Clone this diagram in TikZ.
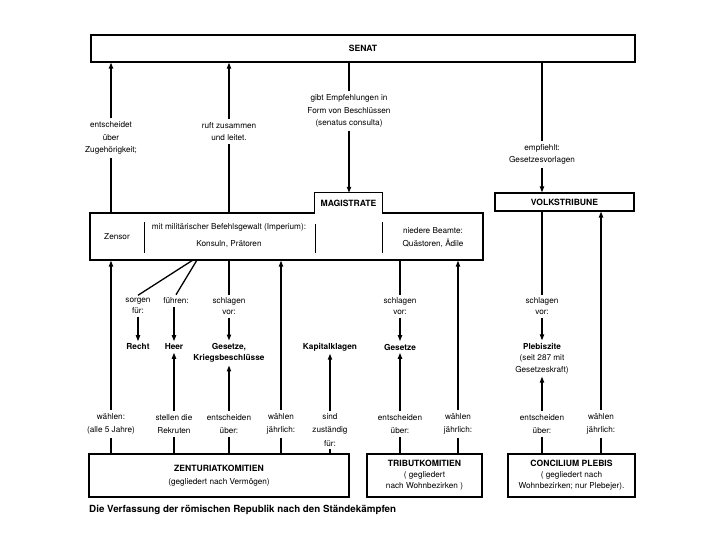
\documentclass[tikz,border=0pt]{standalone}
\usepackage{fontspec}
\setmainfont{TeX Gyre Heros}
\usetikzlibrary{arrows.meta}
\newcommand\mycapf{\fontsize{8.6}{11}\selectfont\bfseries}
\begin{document}
\begin{tikzpicture}[x=1pt,y=-1pt,
 box/.style={draw,line width=1.1pt,inner sep=0pt},
 conn/.style={line width=1.3pt},
 arr/.style={line width=1.3pt,-{Triangle[length=6pt,width=4.2pt]}},
 lab/.style={font=\fontsize{8.2}{12.5}\selectfont,align=center,inner sep=3pt},
 lowlab/.style={lab,font=\fontsize{8.2}{13.5}\selectfont},
 vlab/.style={lab,font=\fontsize{8.2}{10.5}\selectfont},
 tgt/.style={font=\fontsize{8.3}{11.5}\selectfont\bfseries,align=center,inner sep=2.5pt},
 divline/.style={line width=0.6pt}
]
\useasboundingbox (0,0) rectangle (720,540);

% top boxes
\node[box,minimum width=544pt,minimum height=27pt,font=\mycapf] (senat) at (363,48.5) {SENAT};
\node[box,minimum width=393pt,minimum height=47pt] (magbox) at (286.5,236.5) {};
\node[fill=white,inner sep=0pt,minimum width=67pt,minimum height=20.6pt,font=\mycapf] (mag) at (348.5,203.3) {MAGISTRATE};
\draw[line width=1.1pt] (mag.south west) -- (mag.north west) -- (mag.north east) -- (mag.south east);
\node[box,minimum width=139pt,minimum height=18pt,font=\mycapf] (vt) at (564.5,202) {VOLKSTRIBUNE};

% inside magistrate box
\node[lab] (zensor) at (117,237) {Zensor};
\node[lab,font=\fontsize{8.2}{16.5}\selectfont] (imp) at (229,235.5) {mit militärischer Befehlsgewalt (Imperium):\\Konsuln, Prätoren};
\node[lab,font=\fontsize{8.2}{13}\selectfont] (nied) at (433,237.5) {niedere Beamte:\\Quästoren, Ädile};
\draw[divline] (144,222) -- (144,253);
\draw[divline] (315,224) -- (315,253);
\draw[divline] (382,222) -- (382,253);

% bottom boxes
\node[box,minimum width=260pt,minimum height=43pt,align=center,font=\fontsize{8.2}{13}\selectfont] (zent) at (219,475.5) {{\mycapf ZENTURIATKOMITIEN}\\(gegliedert nach Vermögen)};
\node[box,minimum width=115pt,minimum height=43pt,align=center,font=\fontsize{8.2}{11}\selectfont] (trib) at (424.5,475.5) {{\mycapf TRIBUTKOMITIEN}\\( gegliedert\\nach Wohnbezirken )};
\node[box,minimum width=127pt,minimum height=43pt,align=center,font=\fontsize{8.2}{11}\selectfont] (conc) at (571.5,475.5) {{\mycapf CONCILIUM PLEBIS}\\( gegliedert nach\\Wohnbezirken; nur Plebejer).};

% caption
\node[anchor=west,inner sep=0pt,font=\fontsize{9.8}{11}\selectfont\bfseries] (cap) at (89,510) {Die Verfassung der römischen Republik nach den Ständekämpfen};

% upper connectors
\node[lab] (l1) at (111,138) {entscheidet\\über\\Zugehörigkeit;};
\draw[arr] (l1.north) -- (l1.north |- senat.south);
\draw[conn] (l1.south |- magbox.north) -- (l1.south);

\node[lab] (l2) at (229,131.5) {ruft zusammen\\und leitet.};
\draw[arr] (l2.north) -- (l2.north |- senat.south);
\draw[conn] (l2.south |- magbox.north) -- (l2.south);

\node[lab] (l3) at (349,111) {gibt Empfehlungen in\\Form von Beschlüssen\\(senatus consulta)};
\draw[conn] (l3.north |- senat.south) -- (l3.north);
\draw[arr] (l3.south) -- (l3.south |- mag.north);

\node[lab] (l4) at (542,154.5) {empfiehlt:\\Gesetzesvorlagen};
\draw[conn] (l4.north |- senat.south) -- (l4.north);
\draw[arr] (l4.south) -- (l4.south |- vt.north);

% column A
\node[lowlab] (wa) at (111,424) {wählen:\\(alle 5 Jahre)};
\draw[arr] (wa.north) -- (wa.north |- magbox.south);
\draw[conn] (wa.south |- zent.north) -- (wa.south);

% columns B, C
\coordinate (d1) at (193,260);
\coordinate (d2) at (197,260);
\node[vlab] (sorg) at (138,306) {sorgen\\für:};
\node[vlab] (fuhr) at (176,301) {führen:};
\draw[conn] (d1) -- (sorg.north);
\draw[conn] (d2) -- (fuhr.north);
\node[tgt] (recht) at (138,347) {Recht};
\draw[arr] (sorg.south) -- (recht.north);
\node[tgt] (heer) at (174,347) {Heer};
\draw[arr] (fuhr.south -| heer.north) -- (heer.north);
\node[lowlab] (wc) at (174,424) {stellen die\\Rekruten};
\draw[arr] (wc.north) -- (heer.south);
\draw[conn] (wc.south |- zent.north) -- (wc.south);

% column D
\node[vlab] (sd) at (229,306) {schlagen\\vor:};
\draw[conn] (sd.north |- magbox.south) -- (sd.north);
\node[tgt] (gk) at (229,353) {Gesetze,\\Kriegsbeschlüsse};
\draw[arr] (sd.south) -- (gk.north);
\node[lowlab] (wd) at (229,424) {entscheiden\\über:};
\draw[arr] (wd.north) -- (gk.south);
\draw[conn] (wd.south |- zent.north) -- (wd.south);

% column E
\node[lowlab] (we) at (281,424) {wählen\\jährlich:};
\draw[arr] (we.north) -- (we.north |- magbox.south);
\draw[conn] (we.south |- zent.north) -- (we.south);

% column F
\node[tgt] (kap) at (330,347) {Kapitalklagen};
\node[lowlab,inner sep=2pt] (wf) at (330,430) {sind\\zuständig\\für:};
\draw[arr] (wf.north) -- (kap.south);
\draw[conn] (wf.south |- zent.north) -- (wf.south);

% column G
\node[vlab] (sg) at (400,306) {schlagen\\vor:};
\draw[conn] (sg.north |- magbox.south) -- (sg.north);
\node[tgt] (ges) at (400,347) {Gesetze};
\draw[arr] (sg.south) -- (ges.north);
\node[lowlab] (wg) at (400,424) {entscheiden\\über:};
\draw[arr] (wg.north) -- (ges.south);
\draw[conn] (wg.south |- trib.north) -- (wg.south);

% column H
\node[lowlab] (wh) at (458,424) {wählen\\jährlich:};
\draw[arr] (wh.north) -- (wh.north |- magbox.south);
\draw[conn] (wh.south |- trib.north) -- (wh.south);

% column I
\node[vlab] (si) at (542,306) {schlagen\\vor:};
\draw[conn] (si.north |- vt.south) -- (si.north);
\node[tgt,font=\fontsize{8.2}{11.5}\selectfont] (pleb) at (542,358.5) {\textbf{Plebiszite}\\(seit 287 mit\\Gesetzeskraft)};
\draw[arr] (si.south) -- (pleb.north);
\node[lowlab] (wi) at (542,424) {entscheiden\\über:};
\draw[arr] (wi.north) -- (pleb.south);
\draw[conn] (wi.south |- conc.north) -- (wi.south);

% column J
\node[lowlab] (wj) at (601,424) {wählen\\jährlich:};
\draw[arr] (wj.north) -- (wj.north |- vt.south);
\draw[conn] (wj.south |- conc.north) -- (wj.south);
\end{tikzpicture}
\end{document}
